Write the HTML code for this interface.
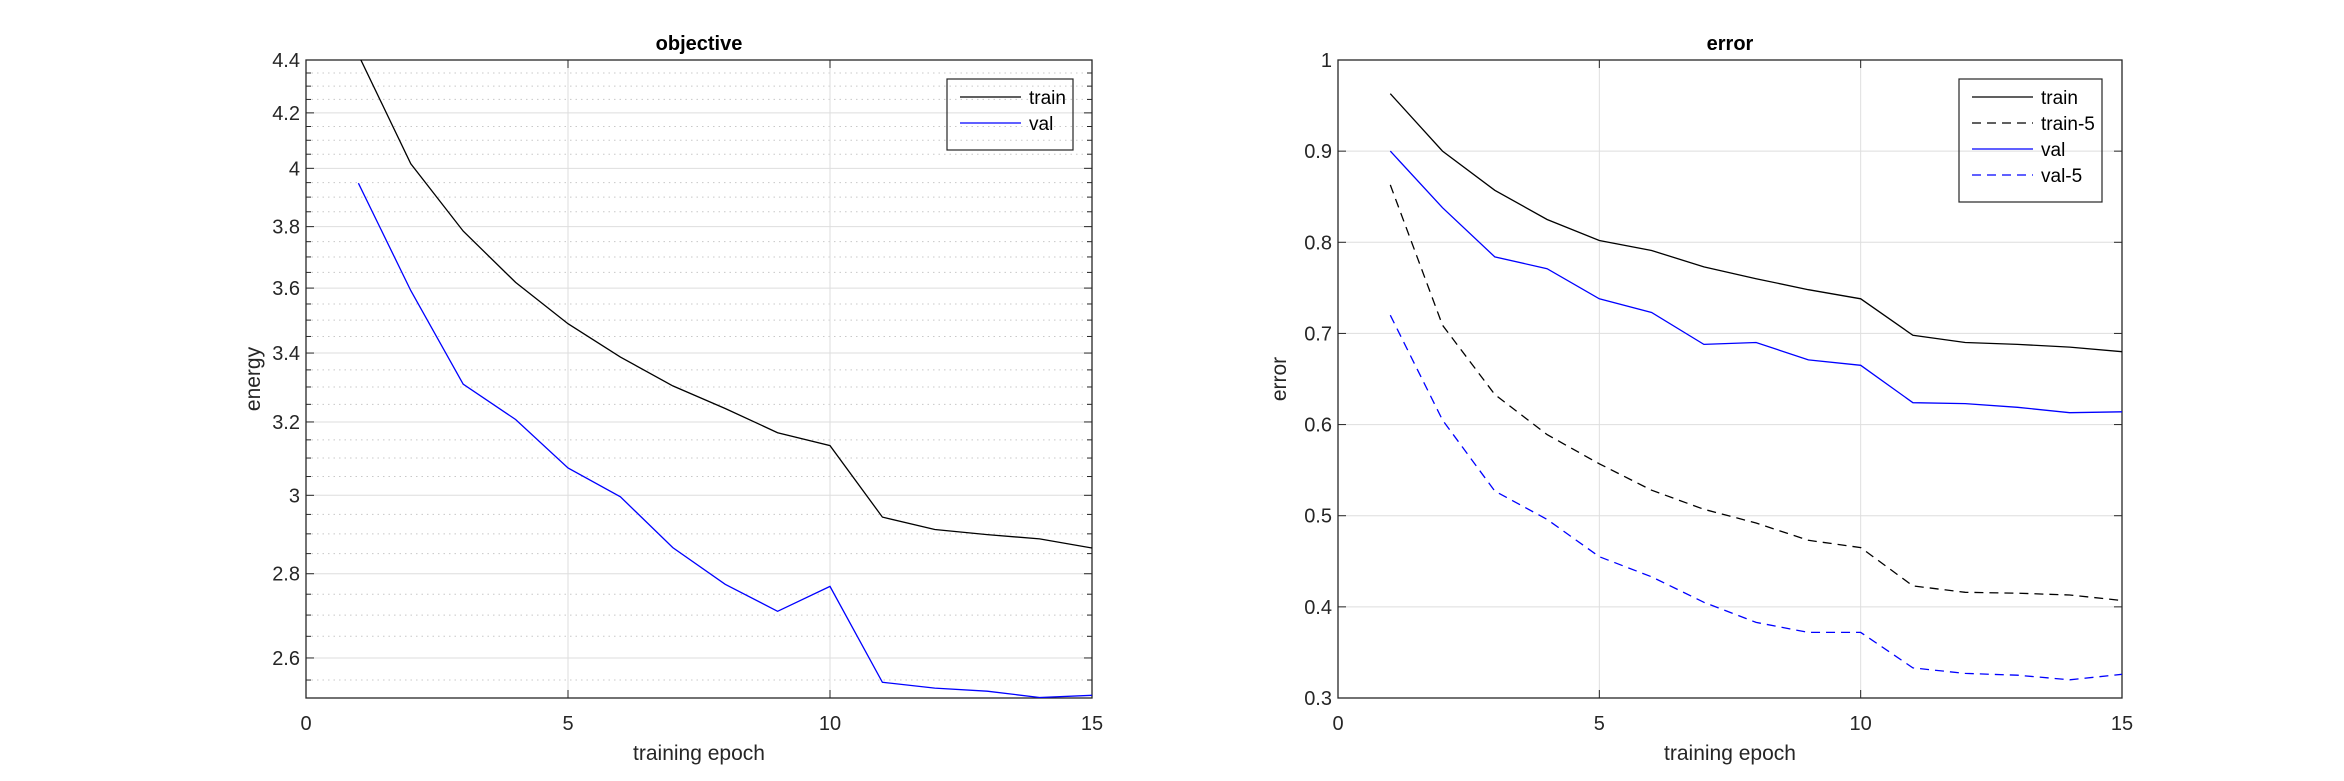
<!DOCTYPE html>
<html><head><meta charset="utf-8"><style>
body{margin:0;background:#fff;}
svg{display:block;font-family:"Liberation Sans",sans-serif;}
</style></head><body>
<svg id="c" width="2344" height="781" xmlns="http://www.w3.org/2000/svg"></svg>
<script>
const epochs=[1,2,3,4,5,6,7,8,9,10,11,12,13,14,15];
const objTrain=[4.42,4.016,3.785,3.618,3.489,3.388,3.303,3.238,3.17,3.134,2.943,2.911,2.898,2.887,2.864];
const objVal=[3.948,3.592,3.308,3.207,3.073,2.996,2.865,2.774,2.709,2.769,2.545,2.532,2.525,2.511,2.516];
const errTrain=[0.963,0.900,0.857,0.825,0.802,0.791,0.773,0.760,0.748,0.738,0.698,0.690,0.688,0.685,0.680];
const errTrain5=[0.863,0.709,0.633,0.589,0.557,0.528,0.507,0.492,0.473,0.465,0.423,0.416,0.415,0.413,0.407];
const errVal=[0.900,0.838,0.784,0.771,0.738,0.723,0.688,0.690,0.671,0.665,0.624,0.623,0.619,0.613,0.614];
const errVal5=[0.720,0.605,0.527,0.496,0.455,0.433,0.405,0.383,0.372,0.372,0.333,0.327,0.325,0.320,0.326];
const xTicks=[0,5,10,15];
const objTicks=[2.6,2.8,3,3.2,3.4,3.6,3.8,4,4.2,4.4];
const objTickLabels=["2.6","2.8","3","3.2","3.4","3.6","3.8","4","4.2","4.4"];
const errTicks=[0.3,0.4,0.5,0.6,0.7,0.8,0.9,1];
const errTickLabels=["0.3","0.4","0.5","0.6","0.7","0.8","0.9","1"];

const NS="http://www.w3.org/2000/svg";
const svg=document.getElementById('c');
function mk(tag,attrs,parent){const e=document.createElementNS(NS,tag);for(const k in attrs)e.setAttribute(k,attrs[k]);(parent||svg).appendChild(e);return e;}

function panel(cfg){
  const g=mk('g',{});
  
  
  const L=cfg.x0,R=cfg.x1,T=60,B=698;
  const xs=v=>L+(v-0)/(15-0)*(R-L);
  let ys;
  if(cfg.log){const a=Math.log(cfg.ymin),b=Math.log(cfg.ymax);ys=v=>B-(Math.log(v)-a)/(b-a)*(B-T);}
  else ys=v=>B-(v-cfg.ymin)/(cfg.ymax-cfg.ymin)*(B-T);
  const clipId='clip-'+cfg.name;
  const cp=mk('clipPath',{id:clipId},g);mk('rect',{x:L,y:T,width:R-L,height:B-T},cp);
  // minor grid
  if(cfg.minor){
    for(let v=Math.ceil(cfg.ymin/0.05)*0.05;v<=cfg.ymax+1e-9;v+=0.05){
      const vv=Math.round(v*100)/100;
      if(Math.abs(vv*5-Math.round(vv*5))<1e-6)continue;
      const y=ys(vv);
      const m=mk('line',{x1:L,x2:R,y1:y,y2:y,stroke:'#c8c8c8','stroke-width':1,'stroke-dasharray':'1.5 4'},g);
      
      
      mk('line',{x1:L,x2:L+5,y1:y,y2:y,stroke:'#262626','stroke-width':1},g);
      mk('line',{x1:R,x2:R-5,y1:y,y2:y,stroke:'#262626','stroke-width':1},g);
    }
  }
  // major grid + y ticks
  cfg.yt.forEach((v,i)=>{
    const y=ys(v);
    const gl=mk('line',{x1:L,x2:R,y1:y,y2:y,stroke:'#dedede','stroke-width':1},g);
    
    
    mk('line',{x1:L,x2:L+8,y1:y,y2:y,stroke:'#262626','stroke-width':1},g);
    mk('line',{x1:R,x2:R-8,y1:y,y2:y,stroke:'#262626','stroke-width':1},g);
    const t=mk('text',{x:L-6,y:y+7,'text-anchor':'end','font-size':20,fill:'#262626'},g);
    t.textContent=cfg.yl[i];
    
    
  });
  xTicks.forEach(v=>{
    const x=xs(v);
    const gl=mk('line',{x1:x,x2:x,y1:T,y2:B,stroke:'#dedede','stroke-width':1},g);
    
    
    mk('line',{x1:x,x2:x,y1:B,y2:B-8,stroke:'#262626','stroke-width':1},g);
    mk('line',{x1:x,x2:x,y1:T,y2:T+8,stroke:'#262626','stroke-width':1},g);
    const t=mk('text',{x:x,y:730,'text-anchor':'middle','font-size':20,fill:'#262626'},g);
    t.textContent=String(v);
    
    
  });
  mk('rect',{x:L,y:T,width:R-L,height:B-T,fill:'none',stroke:'#262626','stroke-width':1.3},g);
  // series
  cfg.series.forEach(s=>{
    const pts=epochs.map((e,i)=>xs(e).toFixed(1)+','+ys(s.data[i]).toFixed(1)).join(' ');
    const p=mk('polyline',{points:pts,fill:'none',stroke:s.color,'stroke-width':1.3,'clip-path':'url(#'+clipId+')'},g);
    if(s.dash)p.setAttribute('stroke-dasharray','9 6');
    
    
  });
  // title/labels
  const tt=mk('text',{x:(L+R)/2,y:50,'text-anchor':'middle','font-size':20,'font-weight':'bold',fill:'#000'},g);
  tt.textContent=cfg.title;
  
  
  const xl=mk('text',{x:(L+R)/2,y:760,'text-anchor':'middle','font-size':21,fill:'#262626'},g);
  xl.textContent='training epoch';
  
  
  const yx=cfg.ylabx,yy=(T+B)/2;
  const yl=mk('text',{x:yx,y:yy,'text-anchor':'middle','font-size':21,fill:'#262626',transform:'rotate(-90 '+yx+' '+yy+')'},g);
  yl.textContent=cfg.ylabel;
  
  
  // legend
  const lg=mk('g',{},g);
  
  
  const lx=cfg.legX,ly=79,lw=cfg.legW,lh=12+cfg.series.length*26+7;
  mk('rect',{x:lx,y:ly,width:lw,height:lh,fill:'none',stroke:'#262626','stroke-width':1.2},lg);
  cfg.series.forEach((s,i)=>{
    const y=ly+18+i*26;
    const e=mk('g',{},lg);
    
    
    const ln=mk('line',{x1:lx+13,x2:lx+74,y1:y,y2:y,stroke:s.color,'stroke-width':1.3},e);
    if(s.dash)ln.setAttribute('stroke-dasharray','9 6');
    const t=mk('text',{x:lx+82,y:y+7,'font-size':19,fill:'#000'},e);
    t.textContent=s.label;
  });
}
panel({name:'objective',x0:306,x1:1092,log:true,ymin:2.51,ymax:4.4,minor:true,yt:objTicks,yl:objTickLabels,
  title:'objective',ylabel:'energy',ylabx:260,legX:947,legW:126,
  series:[{label:'train',data:objTrain,color:'#000'},{label:'val',data:objVal,color:'#0000ff'}]});
panel({name:'error',x0:1338,x1:2122,log:false,ymin:0.3,ymax:1,minor:false,yt:errTicks,yl:errTickLabels,
  title:'error',ylabel:'error',ylabx:1286,legX:1959,legW:143,
  series:[{label:'train',data:errTrain,color:'#000'},{label:'train-5',data:errTrain5,color:'#000',dash:true},
          {label:'val',data:errVal,color:'#0000ff'},{label:'val-5',data:errVal5,color:'#0000ff',dash:true}]});
</script>
</body></html>
